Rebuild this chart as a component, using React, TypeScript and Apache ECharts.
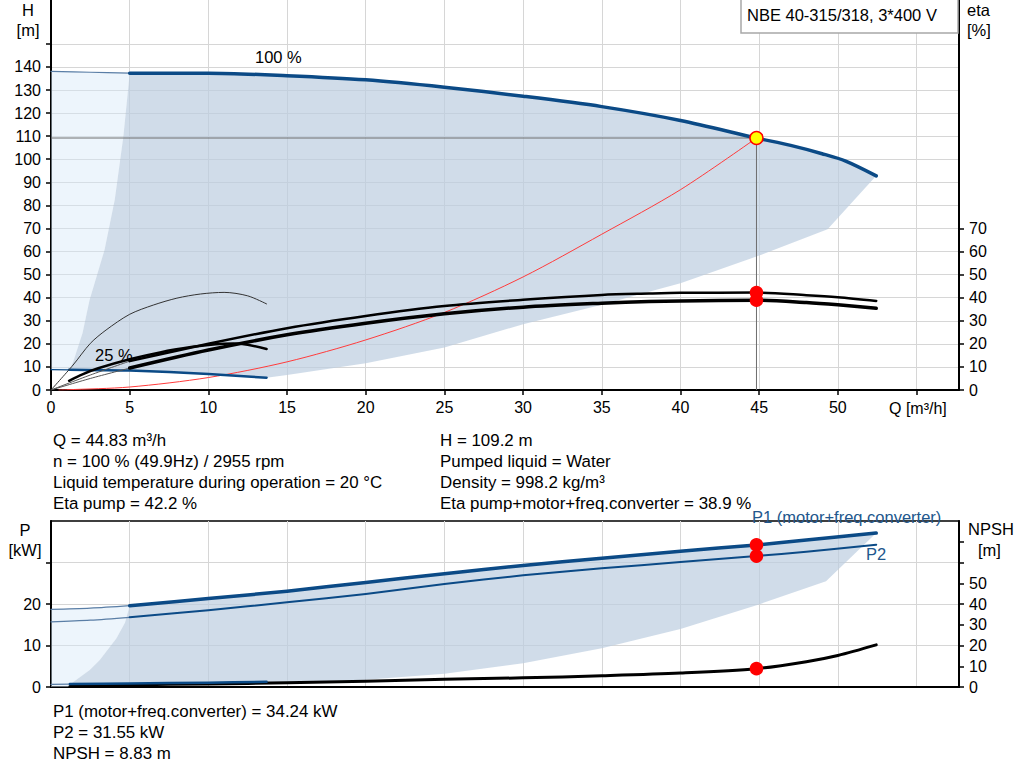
import React, { useEffect, useRef } from "react";
import * as echarts from "echarts";

// ---------- data ----------
const xTicks = [0, 5, 10, 15, 20, 25, 30, 35, 40, 45, 50, 55];
const xLabels = [0, 5, 10, 15, 20, 25, 30, 35, 40, 45, 50];
const hTicks = [0, 10, 20, 30, 40, 50, 60, 70, 80, 90, 100, 110, 120, 130, 140, 150];
const hLabels = [0, 10, 20, 30, 40, 50, 60, 70, 80, 90, 100, 110, 120, 130, 140];
const etaTicks = [0, 10, 20, 30, 40, 50, 60, 70];
const pTicks = [0, 10, 20, 30];
const pLabels = [0, 10, 20];
const npshTicks = [0, 10, 20, 30, 40, 50, 60, 70];
const npshLabels = [0, 10, 20, 30, 40, 50];

// H curve at 100 % speed
const qH100 = [5, 10, 15, 20, 25, 30, 35, 40, 44.83, 47, 49, 50.5, 52.44];
const h100 = [137.3, 137.3, 136.2, 134.4, 131.2, 127.3, 122.8, 116.8, 109.2, 106.0, 102.4, 99.2, 92.8];
const qH100Thin = [0, 2.5, 5];
const h100Thin = [138.1, 137.7, 137.3];

// H curve at 25 % speed
const qH25Thin = [0, 1.15];
const h25Thin = [8.8, 8.75];
const qH25 = [1.15, 3, 5, 7.5, 10, 12, 13.7];
const h25 = [8.75, 8.6, 8.4, 7.8, 6.9, 6.1, 5.3];

// operating range boundaries (H)
const qMinFlowH = [1.15, 1.4, 2.0, 2.45, 3.4, 4.05, 4.6, 5];
const hMinFlowH = [8.75, 12, 24.6, 39, 60.7, 82.4, 110, 137.3];
const qMaxFlowH = [52.44, 49.35, 44.83, 40, 38, 35, 30, 25, 20, 15, 13.7];
const hMaxFlowH = [92.8, 69.7, 57.8, 46.3, 42.6, 36.9, 28.5, 18.4, 11.6, 6.5, 5.3];

// system curve
const qSys = [0.5, 1, 5, 10, 15, 20, 25, 30, 35, 40, 44.83];
const hSys = [0, 0.1, 1.3, 5.4, 12.2, 21.7, 33.6, 49.0, 67.5, 86.8, 109.2];

// efficiency curves
const qEtaThin = [0, 2.5, 5];
const etaPumpThin = [0, 6.5, 12.5];
const etaTotThin = [0, 5, 9.5];
const qEta100 = [5, 10, 15, 20, 25, 30, 35, 38, 40, 44.83, 48, 50, 52.44];
const etaPump100 = [12.5, 20.0, 26.8, 32.1, 36.4, 39.1, 41.2, 41.8, 42.1, 42.2, 41.1, 40.2, 38.6];
const etaTot100 = [9.5, 17.3, 23.9, 28.9, 33.0, 35.9, 37.6, 38.3, 38.6, 38.9, 37.9, 36.9, 35.4];
const qEtaPump25 = [0, 1.4, 2.5, 3.5, 5, 6.5, 8, 9.5, 11, 12.5, 13.7];
const etaPump25 = [0, 10.8, 20.2, 26, 32.8, 36.8, 39.8, 41.6, 42.3, 40.8, 37.3];
const qEtaTot25 = [1.15, 2, 3, 5, 7, 9, 10, 11, 11.6, 12.5, 13.7];
const etaTot25 = [4, 6.8, 9.4, 13.3, 16.4, 18.7, 19.5, 20.0, 20.1, 19.6, 17.8];

// power curves
const qP = [5, 10, 15, 20, 25, 30, 35, 40, 44.83, 48, 52.44];
const p1 = [19.6, 21.3, 23.1, 25.2, 27.3, 29.3, 31.0, 32.7, 34.24, 35.4, 37.1];
const p2 = [16.8, 18.5, 20.4, 22.4, 24.8, 26.9, 28.6, 30.1, 31.55, 32.6, 34.3];
const qPThin = [0, 2.5, 5];
const p1Thin = [18.7, 19.0, 19.6];
const p2Thin = [15.7, 16.1, 16.8];
const qP25Thin = [0, 1.2];
const p25Thin = [0.65, 0.7];
const qP25 = [1.2, 5, 10, 13.7];
const p25 = [0.7, 0.85, 1.05, 1.25];
const qMinFlowP = [1.2, 2.46, 3.1, 4.15, 4.7, 5];
const pMinFlowP = [0.6, 4.1, 6.5, 11.7, 15.5, 19.6];
const qMaxFlowP = [52.44, 49.25, 44.83, 40, 35, 30, 25, 20, 14.5, 13.7];
const pMaxFlowP = [37.1, 25.5, 19.7, 14.0, 9.35, 5.75, 3.2, 1.75, 1.0, 1.1];

// NPSH
const qNpsh = [1.2, 5, 10, 15, 20, 25, 30, 35, 40, 44.83, 48, 50, 52.44];
const npsh = [0.2, 1.0, 1.5, 2.0, 2.8, 3.7, 4.4, 5.4, 6.7, 8.83, 12.2, 15.2, 20.3];

// duty point
const dutyQ = 44.83;
const dutyH = 109.2;
const dutyEtaPump = 42.2;
const dutyEtaTot = 38.9;
const dutyP1 = 34.24;
const dutyP2 = 31.55;
const dutyNpsh = 8.83;

const infoLeft = [
  "Q = 44.83 m³/h",
  "n = 100 % (49.9Hz) / 2955 rpm",
  "Liquid temperature during operation = 20 °C",
  "Eta pump = 42.2 %",
];
const infoRight = [
  "H = 109.2 m",
  "Pumped liquid = Water",
  "Density = 998.2 kg/m³",
  "Eta pump+motor+freq.converter = 38.9 %",
];
const infoBottom = ["P1 (motor+freq.converter) = 34.24 kW", "P2 = 31.55 kW", "NPSH = 8.83 m"];
const title = "NBE 40-315/318, 3*400 V";

// ---------- styling ----------
const FONT = '"Liberation Sans", Arial, sans-serif';
const BLUE = "#0b4a86";
const THINBLUE = "#5a7ea6";
const GRID = "#d6d6d6";

const pairs = (qs: number[], vs: number[]) => qs.map((q, i) => [q, vs[i]]);

function lineS(qs: number[], vs: number[], color: string, width: number, xi: number, yi: number, z = 4) {
  return {
    type: "line",
    xAxisIndex: xi,
    yAxisIndex: yi,
    data: pairs(qs, vs),
    showSymbol: false,
    symbol: "none",
    smooth: 0.3,
    lineStyle: { color, width, cap: "round", join: "round" },
    z,
    silent: true,
  };
}

function polyS(pts: number[][], fill: string, opacity: number, xi: number, yi: number, z: number) {
  return {
    type: "custom",
    xAxisIndex: xi,
    yAxisIndex: yi,
    z,
    silent: true,
    data: [[0, 0]],
    renderItem: (_p: any, api: any) => ({
      type: "polygon",
      shape: { points: pts.map((p) => api.coord(p)), smooth: 0 },
      style: { fill, opacity },
    }),
  };
}

function dotS(q: number, v: number, xi: number, yi: number, color: string, border: string, size: number) {
  return {
    type: "scatter",
    xAxisIndex: xi,
    yAxisIndex: yi,
    data: [[q, v]],
    symbol: "circle",
    symbolSize: size,
    itemStyle: { color, borderColor: border, borderWidth: 1.5, opacity: 1 },
    z: 8,
    silent: true,
  };
}

function txt(x: number, y: number, text: string, opts: any = {}) {
  return {
    type: "text",
    x,
    y,
    z: 20,
    silent: true,
    style: {
      text,
      fill: opts.fill || "#000",
      font: `${opts.size || 16.5}px ${FONT}`,
      textAlign: opts.align || "left",
      align: opts.align || "left",
      textVerticalAlign: "middle",
      verticalAlign: "middle",
    },
  };
}

function valueAxisY(opts: any) {
  return {
    type: "value",
    min: opts.min,
    max: opts.max,
    interval: opts.interval,
    gridIndex: opts.grid,
    position: opts.position,
    axisLine: { show: true, onZero: false, lineStyle: { color: "#000", width: 2 } },
    axisTick: { show: true, length: 5, lineStyle: { color: "#000", width: 1.5 }, customValues: opts.ticks },
    axisLabel: {
      show: true,
      customValues: opts.labels,
      color: "#000",
      fontSize: 16,
      fontFamily: FONT,
      margin: 10,
    },
    splitLine: { show: !!opts.split, lineStyle: { color: GRID, width: 1 } },
  };
}

export default function App() {
  const ref = useRef<HTMLDivElement>(null);

  useEffect(() => {
    if (!ref.current) return;
    const chart = echarts.init(ref.current, undefined, { renderer: "svg" });

    const topPale = [
      [0, h25Thin[0]],
      ...pairs(qH100Thin, h100Thin),
      ...pairs(qMinFlowH, hMinFlowH).reverse(),
    ];
    const topRange = [
      ...pairs(qMinFlowH, hMinFlowH),
      ...pairs(qH100, h100),
      ...pairs(qMaxFlowH, hMaxFlowH),
      ...pairs(qH25, h25).reverse(),
    ];
    const botPale = [
      [0, 0],
      ...pairs(qPThin, p1Thin),
      ...pairs(qMinFlowP, pMinFlowP).reverse(),
      [qMinFlowP[0], 0],
    ];
    const botRange = [
      ...pairs(qMinFlowP, pMinFlowP),
      ...pairs(qP, p1),
      ...pairs(qMaxFlowP, pMaxFlowP),
      ...pairs(qP25, p25).reverse(),
    ];

    const graphics: any[] = [
      {
        type: "rect",
        z: 19,
        silent: true,
        shape: { x: 741, y: -1, width: 217, height: 34 },
        style: { fill: "#fff", stroke: "#a8a8a8", lineWidth: 1.5 },
      },
      txt(747, 15, title),
      txt(28, 10, "H", { align: "center" }),
      txt(28, 30, "[m]", { align: "center" }),
      txt(967, 10, "eta"),
      txt(967, 30, "[%]"),
      txt(255, 57, "100 %"),
      txt(95, 355, "25 %"),
      txt(889, 408, "Q [m³/h]", { size: 16 }),
      txt(25, 530, "P", { align: "center" }),
      txt(25, 550, "[kW]", { align: "center" }),
      txt(968, 529, "NPSH"),
      txt(978, 550, "[m]"),
      txt(752, 517, "P1 (motor+freq.converter)", { fill: "#22578d" }),
      txt(866, 554, "P2", { fill: "#22578d" }),
    ];
    infoLeft.forEach((t, i) => graphics.push(txt(53, 440 + i * 21.3, t, { size: 16.9 })));
    infoRight.forEach((t, i) => graphics.push(txt(440, 440 + i * 21.3, t, { size: 16.9 })));
    infoBottom.forEach((t, i) => graphics.push(txt(53, 711 + i * 21, t, { size: 16.9 })));

    const xAxisBase = (grid: number, labels: boolean) => ({
      type: "value",
      gridIndex: grid,
      min: 0,
      max: 57.7,
      interval: 5,
      axisLine: { show: true, onZero: false, lineStyle: { color: "#000", width: 2 } },
      axisTick: {
        show: labels,
        length: 5,
        lineStyle: { color: "#000", width: 1.5 },
        customValues: xTicks,
      },
      axisLabel: {
        show: labels,
        customValues: xLabels,
        color: "#000",
        fontSize: 16,
        fontFamily: FONT,
        margin: 9,
      },
      splitLine: { show: true, lineStyle: { color: GRID, width: 1 } },
    });

    chart.setOption({
      animation: false,
      backgroundColor: "#fff",
      textStyle: { fontFamily: FONT },
      grid: [
        { left: 51, top: 0, width: 908, height: 390, show: false },
        {
          left: 51,
          top: 521,
          width: 908,
          height: 166,
          show: true,
          borderColor: "#000",
          borderWidth: 1.5,
          backgroundColor: "transparent",
        },
      ],
      xAxis: [xAxisBase(0, true), xAxisBase(1, false)],
      yAxis: [
        valueAxisY({ grid: 0, min: 0, max: 169, interval: 10, ticks: hTicks, labels: hLabels, split: true, position: "left" }),
        valueAxisY({ grid: 0, min: 0, max: 169, interval: 10, ticks: etaTicks, labels: etaTicks, split: false, position: "right" }),
        valueAxisY({ grid: 1, min: 0, max: 40, interval: 10, ticks: pTicks, labels: pLabels, split: true, position: "left" }),
        valueAxisY({ grid: 1, min: 0, max: 80, interval: 10, ticks: npshTicks, labels: npshLabels, split: false, position: "right" }),
      ],
      series: [
        // top chart areas
        polyS(topPale, "#d8e8f8", 0.45, 0, 0, 1),
        polyS(topRange, "#bccde0", 0.7, 0, 0, 1),
        // duty point guide lines
        {
          type: "line",
          xAxisIndex: 0,
          yAxisIndex: 0,
          data: [[0, dutyH], [dutyQ, dutyH], [dutyQ, 0]],
          showSymbol: false,
          symbol: "none",
          lineStyle: { color: "#6e6e6e", width: 1 },
          z: 3,
          silent: true,
        },
        lineS(qSys, hSys, "#ff3b3b", 1, 0, 0, 3),
        lineS(qH100Thin, h100Thin, THINBLUE, 1.2, 0, 0),
        lineS(qH100, h100, BLUE, 3.5, 0, 0),
        lineS(qH25Thin, h25Thin, BLUE, 1.2, 0, 0),
        lineS(qH25, h25, BLUE, 2.5, 0, 0),
        lineS(qEtaThin, etaPumpThin, "#555", 1, 0, 1),
        lineS(qEtaThin, etaTotThin, "#555", 1, 0, 1),
        lineS(qEtaPump25, etaPump25, "#333", 1, 0, 1),
        lineS(qEtaTot25, etaTot25, "#000", 2.5, 0, 1),
        lineS(qEta100, etaPump100, "#000", 2.5, 0, 1),
        lineS(qEta100, etaTot100, "#000", 3.5, 0, 1),
        dotS(dutyQ, dutyH, 0, 0, "#ffff00", "#ff0000", 13),
        dotS(dutyQ, dutyEtaPump, 0, 1, "#ff0000", "#ff0000", 12),
        dotS(dutyQ, dutyEtaTot, 0, 1, "#ff0000", "#ff0000", 12),
        // bottom chart
        polyS(botPale, "#d8e8f8", 0.45, 1, 2, 1),
        polyS(botRange, "#bccde0", 0.7, 1, 2, 1),
        lineS(qPThin, p1Thin, THINBLUE, 1.2, 1, 2),
        lineS(qPThin, p2Thin, THINBLUE, 1.2, 1, 2),
        lineS(qP, p1, BLUE, 3.5, 1, 2),
        lineS(qP, p2, BLUE, 2, 1, 2),
        lineS(qP25Thin, p25Thin, THINBLUE, 1.2, 1, 2),
        lineS(qNpsh, npsh, "#000", 3, 1, 3),
        lineS(qP25, p25, BLUE, 2.5, 1, 2, 5),
        dotS(dutyQ, dutyP1, 1, 2, "#ff0000", "#ff0000", 12),
        dotS(dutyQ, dutyP2, 1, 2, "#ff0000", "#ff0000", 12),
        dotS(dutyQ, dutyNpsh, 1, 3, "#ff0000", "#ff0000", 12),
      ],
      graphic: { elements: graphics },
    });

    return () => chart.dispose();
  }, []);

  return (
    <div
      ref={ref}
      style={{ position: "fixed", left: 0, top: 0, width: 1024, height: 781, background: "#fff" }}
    />
  );
}
